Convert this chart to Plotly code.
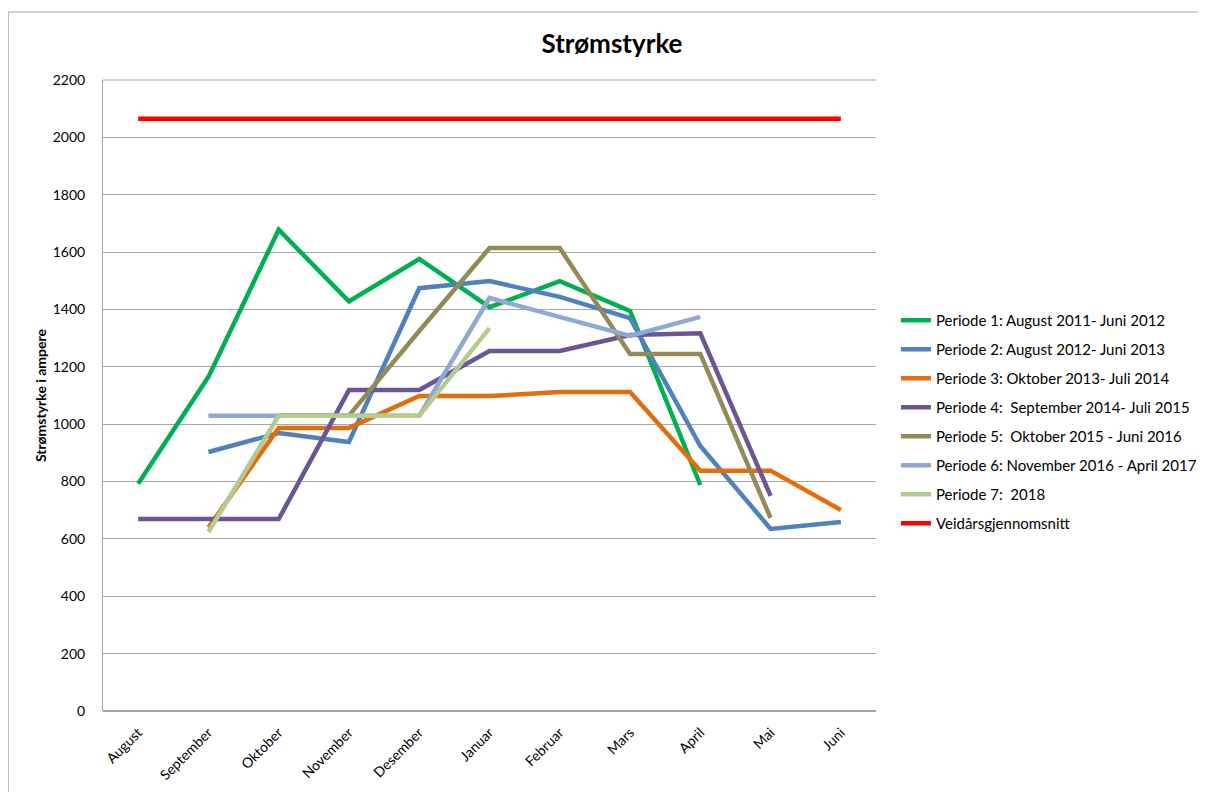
import plotly.graph_objects as go

months = ["August", "September", "Oktober", "November", "Desember", "Januar",
          "Februar", "Mars", "April", "Mai", "Juni"]

p1 = [792, 1165, 1678, 1428, 1576, 1408, 1499, 1395, 788, None, None]
p2 = [None, 903, 969, 938, 1474, 1499, 1444, 1370, 924, 635, 659]
p3 = [None, 640, 987, 987, 1098, 1098, 1112, 1112, 838, 838, 701]
p4 = [669, 669, 669, 1119, 1119, 1255, 1255, 1311, 1317, 750, None]
p5 = [None, None, 1030, 1030, 1325, 1614, 1614, 1245, 1245, 673, None]
p6 = [None, 1029, 1029, 1029, 1029, 1440, 1374, 1308, 1374, None, None]
p7 = [None, 624, 1029, 1029, 1029, 1335, None, None, None, None, None]
avg = [2065] * 11

names = [
    "Periode 1: August 2011- Juni 2012",
    "Periode 2: August 2012- Juni 2013",
    "Periode 3: Oktober 2013- Juli 2014",
    "Periode 4:  September 2014- Juli 2015",
    "Periode 5:  Oktober 2015 - Juni 2016",
    "Periode 6: November 2016 - April 2017",
    "Periode 7:  2018",
    "Veidårsgjennomsnitt",
]
colors = ["#00B050", "#4F81BD", "#E46C0A", "#6B5595", "#948A54", "#8EA9D3", "#B3CB8F", "#FF0000"]
series = [p1, p2, p3, p4, p5, p6, p7, avg]

fig = go.Figure()
for i, (nm, col, ys) in enumerate(zip(names, colors, series)):
    fig.add_trace(go.Scatter(
        x=months, y=ys, name=nm, mode="lines",
        line=dict(color=col, width=4.5),
        connectgaps=False, legendgroup=f"g{i}",
    ))

font = "Lato, 'Open Sans', sans-serif"
# page has an 8px body margin; layout numbers below are compensated for it
fig.update_layout(
    width=1206, height=792,
    margin=dict(l=95, r=336, t=72, b=89),
    paper_bgcolor="white", plot_bgcolor="white",
    font=dict(family=font, color="#000000", size=14),
    title=dict(text="<b>Strømstyrke</b>", x=604 / 1206, xref="container", xanchor="center",
               y=1 - 36 / 792, yref="container", yanchor="middle",
               font=dict(size=26, family=font, color="#000")),
    showlegend=True,
    legend=dict(x=(898 - 103) / 775, xanchor="left", y=(711 - 304) / 631, yanchor="top",
                font=dict(size=15, family=font), tracegroupgap=6.5,
                bgcolor="rgba(0,0,0,0)"),
)
fig.update_xaxes(
    type="category", range=[-0.5, 10.5], tickangle=-45, showgrid=False, showline=False,
    zeroline=False, automargin=False,
    tickfont=dict(size=14, family=font), ticks="outside", ticklen=7, tickcolor="rgba(0,0,0,0)",
)
fig.update_yaxes(
    range=[0, 2200], dtick=200, tick0=0, showgrid=True, gridcolor="#A6A6A6", gridwidth=1,
    showline=True, linecolor="#A6A6A6", linewidth=1, zeroline=True, zerolinecolor="#A6A6A6",
    ticks="", ticklabelstandoff=14, tickfont=dict(size=14, family=font), automargin=False,
    title=dict(text="<b>Strømstyrke i ampere</b>", font=dict(size=14, family=font), standoff=2),
)
# outer chart border
fig.add_shape(type="rect", xref="paper", yref="paper",
              x0=(8 - 103) / 775, x1=(1202 - 103) / 775,
              y0=(711 - 800) / 631, y1=(711 - 12) / 631,
              line=dict(color="#A6A6A6", width=1), fillcolor="rgba(0,0,0,0)", layer="below")
# top border of plot area
fig.add_shape(type="line", xref="paper", yref="paper", x0=0, x1=1, y0=1, y1=1,
              line=dict(color="#A6A6A6", width=1), layer="below")

fig.write_html("out.html")
